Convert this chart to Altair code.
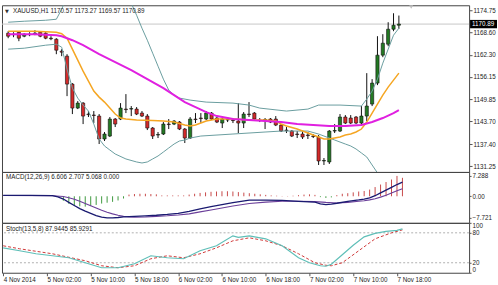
import json
import altair as alt
import pandas as pd

# ---------------- data ----------------
bar_index = list(range(74))
opens = [1168.34, 1167.93, 1168.62, 1167.51, 1168.07, 1168.07, 1168.62, 1168.34, 1166.95, 1166.67,
         1163.33, 1161.94, 1154.14, 1147.45, 1148.84, 1145.78, 1145.50, 1145.22, 1138.82, 1139.65,
         1144.39, 1144.39, 1147.17, 1147.17, 1147.17, 1146.06, 1145.22, 1141.88, 1139.93, 1140.21,
         1142.99, 1142.99, 1143.55, 1141.60, 1139.09, 1144.39, 1144.67, 1144.39, 1146.06, 1144.67,
         1143.27, 1144.11, 1144.11, 1143.83, 1143.27, 1145.78, 1146.06, 1144.11, 1144.11, 1144.39,
         1144.39, 1142.71, 1141.32, 1141.04, 1140.21, 1140.21, 1139.93, 1139.65, 1139.37, 1132.69,
         1132.41, 1141.04, 1141.04, 1144.95, 1144.67, 1144.95, 1143.27, 1145.22, 1148.57, 1154.42,
         1162.22, 1165.28, 1169.46, 1170.57]
highs = [1168.90, 1168.62, 1168.90, 1168.34, 1168.62, 1169.18, 1168.90, 1168.62, 1167.51, 1166.95,
         1163.89, 1162.49, 1154.42, 1149.40, 1149.12, 1146.62, 1146.62, 1145.78, 1140.77, 1144.95,
         1144.67, 1148.84, 1151.35, 1148.01, 1147.73, 1146.62, 1145.78, 1142.16, 1140.77, 1143.55,
         1144.39, 1144.11, 1143.83, 1141.88, 1144.95, 1146.06, 1146.06, 1146.62, 1146.34, 1144.95,
         1144.67, 1144.95, 1144.67, 1148.84, 1146.34, 1149.12, 1146.34, 1144.67, 1144.67, 1144.67,
         1145.22, 1142.99, 1142.16, 1141.32, 1141.04, 1141.04, 1140.77, 1140.21, 1139.93, 1133.52,
         1141.32, 1142.99, 1145.78, 1145.50, 1145.50, 1145.22, 1148.01, 1157.20, 1155.53, 1167.51,
         1168.07, 1171.41, 1173.91, 1173.27]
lows = [1166.95, 1167.23, 1166.12, 1167.23, 1167.51, 1167.79, 1167.23, 1166.67, 1166.40, 1162.49,
        1161.94, 1150.79, 1145.78, 1147.17, 1142.99, 1144.95, 1143.27, 1137.42, 1138.26, 1139.37,
        1142.16, 1144.11, 1146.06, 1145.22, 1145.50, 1144.95, 1141.32, 1138.82, 1139.09, 1139.93,
        1141.60, 1142.71, 1141.32, 1137.70, 1138.82, 1143.27, 1143.27, 1144.11, 1144.11, 1143.27,
        1141.88, 1143.55, 1143.27, 1140.49, 1141.88, 1144.95, 1144.11, 1143.55, 1141.60, 1143.27,
        1142.43, 1140.77, 1140.49, 1139.37, 1139.09, 1138.82, 1138.82, 1139.09, 1131.57, 1131.57,
        1131.85, 1140.49, 1140.77, 1142.99, 1142.99, 1142.99, 1142.71, 1143.83, 1148.01, 1153.86,
        1161.66, 1164.72, 1168.90, 1169.57]
closes = [1167.51, 1168.07, 1166.95, 1168.07, 1167.93, 1168.34, 1167.51, 1166.95, 1166.81, 1163.61,
          1163.05, 1154.14, 1147.45, 1148.84, 1145.22, 1145.64, 1145.40, 1138.82, 1140.21, 1144.39,
          1142.99, 1147.45, 1147.03, 1147.31, 1145.78, 1145.22, 1141.88, 1139.65, 1140.07, 1142.99,
          1142.85, 1143.83, 1141.60, 1139.09, 1144.39, 1144.25, 1144.53, 1146.06, 1144.39, 1143.55,
          1144.39, 1144.25, 1143.97, 1143.27, 1145.78, 1145.64, 1144.39, 1143.97, 1144.25, 1143.55,
          1142.71, 1141.04, 1141.18, 1139.65, 1140.07, 1139.37, 1139.79, 1139.51, 1132.69, 1132.83,
          1141.04, 1141.18, 1144.95, 1143.27, 1143.27, 1143.27, 1145.22, 1148.01, 1154.42, 1162.22,
          1165.56, 1169.46, 1170.57, 1170.89]

tick_bars = [0, 8, 16, 24, 32, 40, 48, 56, 64, 72]
tick_labels = ["4 Nov 2014", "5 Nov 02:00", "5 Nov 10:00", "5 Nov 18:00", "6 Nov 02:00",
               "6 Nov 10:00", "6 Nov 18:00", "7 Nov 02:00", "7 Nov 10:00", "7 Nov 18:00"]
price_ticks = [1131.25, 1137.40, 1143.70, 1149.85, 1156.15, 1162.30, 1168.60, 1174.75]
last_price = 1170.89

# Bollinger bands
bb_up_idx = [0, 3, 7, 9, 10, 11, 14, 17, 20, 22, 23, 24, 25, 26, 27, 28, 29, 30, 31, 32, 34, 37,
             42, 45, 47, 52, 56, 58, 62, 66, 67, 68, 69, 70, 71, 72, 73]
bb_up = [1171.41, 1171.69, 1171.96, 1172.24, 1175.03, 1178.65, 1184.22, 1185.62, 1183.39, 1179.49,
         1176.70, 1173.36, 1169.74, 1166.39, 1162.77, 1159.15, 1155.53, 1152.47, 1151.07, 1150.24,
         1149.68, 1149.12, 1148.84, 1148.29, 1147.45, 1146.62, 1147.17, 1148.29, 1148.29, 1148.01,
         1149.96, 1152.19, 1155.53, 1159.99, 1163.89, 1167.79, 1169.74]
bb_lo_idx = [0, 3, 7, 9, 10, 11, 12, 13, 14, 15, 16, 17, 18, 19, 20, 22, 24, 25, 26, 27, 28, 29,
             30, 31, 32, 33, 34, 36, 42, 45, 48, 51, 56, 58, 59, 60, 61, 62, 63, 64, 65, 66, 67,
             68, 69, 70, 71, 72, 73]
bb_lo = [1163.89, 1164.16, 1165.00, 1165.28, 1164.44, 1158.32, 1153.02, 1150.24, 1148.29, 1146.62,
         1142.99, 1138.82, 1136.87, 1135.75, 1134.64, 1133.25, 1132.41, 1132.13, 1132.41, 1133.25,
         1134.08, 1135.19, 1136.31, 1137.42, 1138.26, 1138.54, 1139.09, 1139.65, 1140.21, 1140.49,
         1140.77, 1141.04, 1141.04, 1140.21, 1139.65, 1139.09, 1138.54, 1137.98, 1137.42, 1136.87,
         1136.03, 1134.92, 1133.80, 1131.57, 1129.35, 1127.40, 1126.01, 1125.17, 1124.33]

# fast (orange) and slow (magenta) moving averages
ma_fast_idx = [0, 5, 9, 10, 11, 12, 13, 14, 15, 16, 17, 18, 19, 20, 21, 22, 24, 27, 29, 31, 33, 34,
               35, 36, 37, 39, 42, 45, 48, 50, 51, 52, 54, 56, 57, 58, 59, 60, 61, 62, 63, 64, 65,
               66, 67, 68, 69, 70, 71, 72, 73]
ma_fast = [1168.90, 1168.90, 1168.62, 1168.20, 1166.95, 1163.89, 1160.82, 1157.76, 1154.97, 1152.19,
           1150.51, 1149.12, 1147.45, 1145.78, 1144.67, 1144.39, 1144.11, 1143.97, 1143.83, 1143.55,
           1142.71, 1142.43, 1142.71, 1143.27, 1143.83, 1144.39, 1144.39, 1144.11, 1144.11, 1143.83,
           1142.99, 1142.43, 1141.60, 1140.49, 1139.93, 1139.37, 1138.82, 1138.82, 1139.09, 1139.37,
           1139.93, 1140.21, 1140.77, 1141.60, 1143.55, 1146.06, 1148.57, 1151.07, 1153.30, 1155.25,
           1157.20]
ma_slow_idx = [0, 5, 9, 10, 12, 14, 17, 20, 23, 26, 29, 31, 33, 35, 37, 39, 42, 45, 48, 51, 54, 57,
               60, 63, 66, 68, 70, 72, 73]
ma_slow = [1168.07, 1168.07, 1167.79, 1167.51, 1166.39, 1165.00, 1162.49, 1160.26, 1158.04, 1155.53,
           1153.02, 1151.07, 1149.12, 1147.73, 1146.34, 1145.22, 1144.39, 1144.11, 1143.83, 1143.55,
           1142.99, 1142.71, 1142.43, 1142.43, 1142.71, 1143.55, 1144.67, 1146.06, 1146.90]

# MACD
macd_main_idx = [0, 5, 9, 10, 11, 12, 13, 14, 15, 16, 17, 18, 19, 20, 21, 22, 24, 26, 28, 30, 32, 34,
                 36, 38, 40, 42, 45, 48, 51, 54, 57, 58, 59, 60, 61, 63, 65, 66, 67, 68, 69, 70, 71,
                 72, 73]
macd_main = [0.3, 0.3, 0.2, -0.2, -1.0, -2.2, -3.3, -4.4, -5.3, -6.1, -6.9, -7.5, -7.721, -7.7, -7.6,
             -7.4, -7.2, -7.0, -6.8, -6.5, -6.1, -5.4, -4.5, -3.7, -3.0, -2.3, -1.4, -1.4, -1.5, -1.8,
             -2.1, -2.7, -3.0, -2.8, -2.5, -1.8, -1.3, -1.0, -0.6, 0.2, 1.2, 2.2, 3.2, 4.2, 5.068]
macd_sig_idx = [0, 9, 11, 12, 13, 14, 15, 16, 17, 18, 19, 20, 21, 22, 23, 24, 26, 28, 30, 32, 34, 36,
                38, 40, 42, 45, 48, 51, 54, 57, 59, 61, 63, 65, 66, 67, 68, 69, 70, 71, 72, 73]
macd_sig = [0.3, 0.2, -0.1, -0.5, -1.1, -1.8, -2.6, -3.4, -4.2, -5.0, -5.7, -6.3, -6.8, -7.2, -7.4,
            -7.5, -7.4, -7.2, -7.0, -6.7, -6.3, -5.6, -4.9, -4.2, -3.5, -2.6, -2.1, -1.8, -1.8, -1.9,
            -2.2, -2.4, -2.2, -1.8, -1.6, -1.3, -0.9, -0.3, 0.4, 1.2, 2.0, 2.707]
macd_hist = [0, 0, 0, 0, 0, 0, 0, 0, 0, 0,
             0, -1.6, -2.7, -3.5, -3.6, -3.7, -3.5, -3.1, -2.6, -2.3,
             -2.0, -1.5, -0.8, 0.6, 0.8, 0.9, 0.9, 0.8, 0.7, 0.3,
             0.3, 0.3, 0.3, 0.3, 0.6, 0.9, 1.2, 1.4, 1.6, 1.7,
             1.8, 1.8, 1.7, 1.5, 1.3, 1.1, 0.9, 0.7, 0.5, 0.3,
             0.2, 0.1, 0.1, 0.2, 0.4, 0.6, 0.7, 0.5, -0.3, -0.6,
             -0.4, 0.4, 0.9, 1.1, 1.4, 1.7, 1.9, 2.4, 3.3, 4.2,
             5.1, 6.0, 7.288, 6.606]
macd_ticks = [-7.721, 0, 7.288]

# Stochastic
stoch_main_idx = [0, 3, 6, 9, 12, 15, 18, 21, 24, 27, 30, 33, 36, 39, 42, 43, 45, 48, 51, 54, 56, 58,
                  59, 60, 62, 64, 66, 68, 70, 72, 73]
stoch_main = [50, 44, 38, 34, 30, 20, 10, 10, 18, 34, 30, 28, 44, 54, 74, 71, 74, 68, 54, 30, 20, 14,
              13, 17, 36, 55, 72, 79, 83, 85, 87.94]
stoch_sig_idx = [0, 3, 9, 15, 18, 21, 24, 27, 30, 33, 36, 39, 42, 45, 48, 51, 54, 57, 59, 60, 62, 65,
                 68, 71, 73]
stoch_sig = [54, 48, 38, 24, 14, 10, 14, 28, 34, 30, 38, 50, 64, 70, 64, 54, 38, 20, 15, 14, 20, 44,
             68, 80, 85.93]
stoch_levels = [20, 80]
stoch_ticks = [0, 20, 80, 100]

header_main = "XAUUSD,H1  1170.57 1173.27 1169.57 1170.89"
header_macd = "MACD(12,26,9) 6.606 2.707 5.068 0.000"
header_stoch = "Stoch(13,5,8) 87.9445 85.9291"

# ---------------- styling ----------------
FONT = "Liberation Sans"
FS = 6.3
GREEN = "#237a23"
RED = "#d42a2a"
BB = "#6a9ea0"
ORANGE = "#f5a623"
MAGENTA = "#e020e0"
W = 468

cdf = pd.DataFrame({"i": bar_index, "o": opens, "h": highs, "l": lows, "c": closes})
cdf["top"] = cdf[["o", "c"]].max(axis=1)
cdf["bot"] = cdf[["o", "c"]].min(axis=1)
cdf["col"] = [GREEN if c >= o else RED for o, c in zip(opens, closes)]


def ldf(idx, vals):
    return pd.DataFrame({"i": idx, "v": vals})


xs = alt.Scale(domain=[-0.22, 85.18], nice=False, zero=False)
X = alt.X("i:Q", scale=xs, axis=None)

# ---------------- main pane ----------------
py = alt.Scale(domain=[1129.63, 1176.14], nice=False, zero=False)
price_axis = alt.Axis(orient="right", values=price_ticks, format=".2f", title=None, grid=False,
                      tickSize=3, labelPadding=1, domainColor="#555", tickColor="#555",
                      labelColor="#222", labelFontSize=FS, labelFont=FONT)


def PY(field):
    return alt.Y(field, scale=py, axis=price_axis)


cur_df = pd.DataFrame({"p": [last_price]})
cur_rule = alt.Chart(cur_df).mark_rule(color="#c8c8c8", strokeWidth=1).encode(y=PY("p:Q"))


def pline(idx, vals, color, width):
    return alt.Chart(ldf(idx, vals)).mark_line(color=color, strokeWidth=width, clip=True).encode(
        x=X, y=PY("v:Q"))


wicks = alt.Chart(cdf).mark_rule(color="#111", strokeWidth=1, clip=True).encode(
    x=X, y=PY("l:Q"), y2="h:Q")
bodies = alt.Chart(cdf).mark_bar(size=3.2, stroke="#111", strokeWidth=0.6, clip=True).encode(
    x=X, y=PY("bot:Q"), y2="top:Q", color=alt.Color("col:N", scale=None))

hdr = alt.Chart(pd.DataFrame({"t": [header_main]})).mark_text(
    align="left", baseline="middle", font=FONT, fontSize=FS, color="#222").encode(
    x=alt.value(11), y=alt.value(6), text="t:N")
tri = alt.Chart(pd.DataFrame({"t": ["\u25bc"]})).mark_text(
    align="left", baseline="middle", font="DejaVu Sans", fontSize=5, color="#333").encode(
    x=alt.value(3), y=alt.value(6), text="t:N")
shift_mark = alt.Chart(pd.DataFrame({"t": [1]})).mark_point(
    shape="triangle-down", filled=True, color="#bdbdbd", size=16, opacity=1).encode(
    x=alt.value(410), y=alt.value(1.8))

tag_bg = alt.Chart(cur_df).mark_point(
    shape="M-1,-0.31L1,-0.31L1,0.31L-1,0.31Z", filled=True, color="#000", size=729, opacity=1).encode(
    x=alt.value(482.5), y=PY("p:Q"))
tag_txt = alt.Chart(cur_df).mark_text(align="left", baseline="middle", font=FONT, fontSize=FS,
                                      color="#fff").encode(
    x=alt.value(471), y=PY("p:Q"), text=alt.Text("p:Q", format=".2f"))

main = alt.layer(
    cur_rule,
    wicks, bodies,
    pline(bb_up_idx, bb_up, BB, 1),
    pline(bb_lo_idx, bb_lo, BB, 1),
    pline(ma_fast_idx, ma_fast, ORANGE, 1.5),
    pline(ma_slow_idx, ma_slow, MAGENTA, 2),
    hdr, tri, shift_mark, tag_bg, tag_txt,
).properties(width=W, height=167)

# ---------------- MACD pane ----------------
ms = alt.Scale(domain=[-9.51, 8.71], nice=False, zero=False)
macd_axis = alt.Axis(orient="right", values=macd_ticks, title=None, grid=False, tickSize=2,
                     labelPadding=1, domainColor="#555", tickColor="#555", labelColor="#222",
                     labelFontSize=FS, labelFont=FONT,
                     labelExpr="datum.value == 0 ? '0.00' : format(datum.value, '.3f')")


def MY(field):
    return alt.Y(field, scale=ms, axis=macd_axis)


hdf = pd.DataFrame({"i": bar_index, "h": macd_hist, "zero": [0] * len(bar_index),
                    "col": ["#c84a4a" if v >= 0 else "#3f9a3f" for v in macd_hist]})
hist = alt.Chart(hdf).mark_rule(strokeWidth=1).encode(
    x=X, y=MY("h:Q"), y2="zero:Q", color=alt.Color("col:N", scale=None))


def mline(idx, vals, color, width):
    return alt.Chart(ldf(idx, vals)).mark_line(color=color, strokeWidth=width, clip=True).encode(
        x=X, y=MY("v:Q"))


mhdr = alt.Chart(pd.DataFrame({"t": [header_macd]})).mark_text(
    align="left", baseline="middle", font=FONT, fontSize=FS, color="#222").encode(
    x=alt.value(4), y=alt.value(5), text="t:N")

macd = alt.layer(
    hist,
    mline(macd_sig_idx, macd_sig, "#6b3f9a", 1.1),
    mline(macd_main_idx, macd_main, "#1a1a70", 1.3),
    mhdr,
).properties(width=W, height=51)

# ---------------- Stochastic pane ----------------
ss = alt.Scale(domain=[0, 100], nice=False, zero=False)
stoch_axis = alt.Axis(orient="right", values=stoch_ticks, title=None, grid=False, tickSize=2,
                      labelPadding=1, domainColor="#555", tickColor="#555", labelColor="#222",
                      labelFontSize=FS, labelFont=FONT, labelFlush=True, format="d")
x_axis = alt.Axis(values=tick_bars, title=None, grid=False, tickSize=3, labelPadding=1,
                  labelAlign="left", labelFlush=False, labelOverlap=False, domain=False,
                  tickColor="#555", labelColor="#222", labelFontSize=FS, labelFont=FONT,
                  labelExpr=f"{json.dumps(tick_labels)}[indexof({json.dumps(tick_bars)}, datum.value)]")


def SX():
    return alt.X("i:Q", scale=xs, axis=x_axis)


def SY(field):
    return alt.Y(field, scale=ss, axis=stoch_axis)


lv = alt.Chart(pd.DataFrame({"v": stoch_levels})).mark_rule(
    color="#b0b0b0", strokeWidth=1, strokeDash=[2, 2]).encode(y=SY("v:Q"))
s_sig = alt.Chart(ldf(stoch_sig_idx, stoch_sig)).mark_line(
    color="#d03a3a", strokeWidth=1, strokeDash=[3, 2], clip=True).encode(x=SX(), y=SY("v:Q"))
s_main = alt.Chart(ldf(stoch_main_idx, stoch_main)).mark_line(
    color="#5fbfb8", strokeWidth=1.2, clip=True).encode(x=SX(), y=SY("v:Q"))
shdr = alt.Chart(pd.DataFrame({"t": [header_stoch]})).mark_text(
    align="left", baseline="middle", font=FONT, fontSize=FS, color="#222").encode(
    x=alt.value(4), y=alt.value(6), text="t:N")

stoch = alt.layer(lv, s_sig, s_main, shdr).properties(width=W, height=50)

chart = alt.vconcat(main, macd, stoch, spacing=0, bounds="flush").properties(
    padding={"left": 1, "top": 4, "right": 0, "bottom": 0},
    background="#ffffff",
).configure_view(stroke="#444", strokeWidth=1).configure_text(font=FONT)

chart.save("out.html", embed_options={"renderer": "svg", "actions": False})
